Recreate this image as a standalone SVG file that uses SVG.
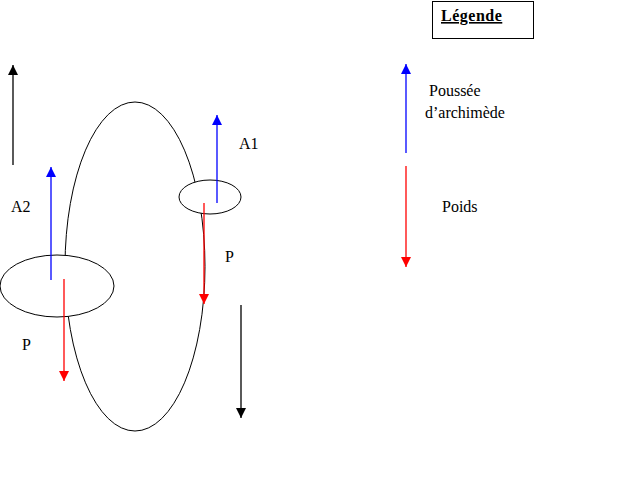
<svg xmlns="http://www.w3.org/2000/svg" width="640" height="480" viewBox="0 0 640 480">
<style>
text{font-family:"Liberation Serif","Times New Roman",serif;font-size:16px;fill:#000}
.shape{fill:#fff;stroke:#000;stroke-width:1}
.k{stroke:#000;stroke-width:1.3;fill:none}
.b{stroke:#0000ff;stroke-width:1.3;fill:none}
.r{stroke:#ff0000;stroke-width:1.3;fill:none}
</style>
<defs>
<marker id="ak" viewBox="0 0 10 10" refX="10" refY="5" markerWidth="10" markerHeight="10" markerUnits="userSpaceOnUse" orient="auto"><path d="M0,0L10,5L0,10z" fill="#000"/></marker>
<marker id="ab" viewBox="0 0 10 10" refX="10" refY="5" markerWidth="10" markerHeight="10" markerUnits="userSpaceOnUse" orient="auto"><path d="M0,0L10,5L0,10z" fill="#0000ff"/></marker>
<marker id="ar" viewBox="0 0 10 10" refX="10" refY="5" markerWidth="10" markerHeight="10" markerUnits="userSpaceOnUse" orient="auto"><path d="M0,0L10,5L0,10z" fill="#ff0000"/></marker>
</defs>
<rect x="0" y="0" width="640" height="480" fill="#fff"/>
<g id="loop"><ellipse class="shape" cx="135" cy="266.5" rx="70" ry="164.5" fill="none"/></g>
<g id="ellipse-large"><ellipse class="shape" cx="57" cy="286" rx="57" ry="31"/></g>
<g id="ellipse-small"><ellipse class="shape" cx="210" cy="197" rx="31" ry="17"/></g>
<g id="legend-box"><rect x="432.5" y="1.5" width="101" height="37" fill="#fff" stroke="#000"/><text x="441" y="21" font-weight="bold" text-decoration="underline" letter-spacing="0.5">Légende</text></g>
<g id="connectors">
<line class="k" x1="13" y1="165" x2="13" y2="65" marker-end="url(#ak)"/>
<line class="b" x1="51" y1="280" x2="51" y2="167" marker-end="url(#ab)"/>
<line class="r" x1="64" y1="279" x2="64" y2="381" marker-end="url(#ar)"/>
<line class="b" x1="217" y1="203" x2="217" y2="115" marker-end="url(#ab)"/>
<line class="r" x1="204" y1="203" x2="204" y2="304" marker-end="url(#ar)"/>
<line class="k" x1="241" y1="305" x2="241" y2="418" marker-end="url(#ak)"/>
<line class="b" x1="406" y1="153" x2="406" y2="64" marker-end="url(#ab)"/>
<line class="r" x1="406" y1="166" x2="406" y2="267" marker-end="url(#ar)"/>
</g>
<g id="labels">
<text x="11" y="212">A2</text>
<text x="239" y="149">A1</text>
<text x="225" y="262">P</text>
<text x="22" y="350">P</text>
<text x="429" y="96">Poussée</text>
<text x="425" y="118">d’archimède</text>
<text x="442" y="212">Poids</text>
</g>
</svg>
